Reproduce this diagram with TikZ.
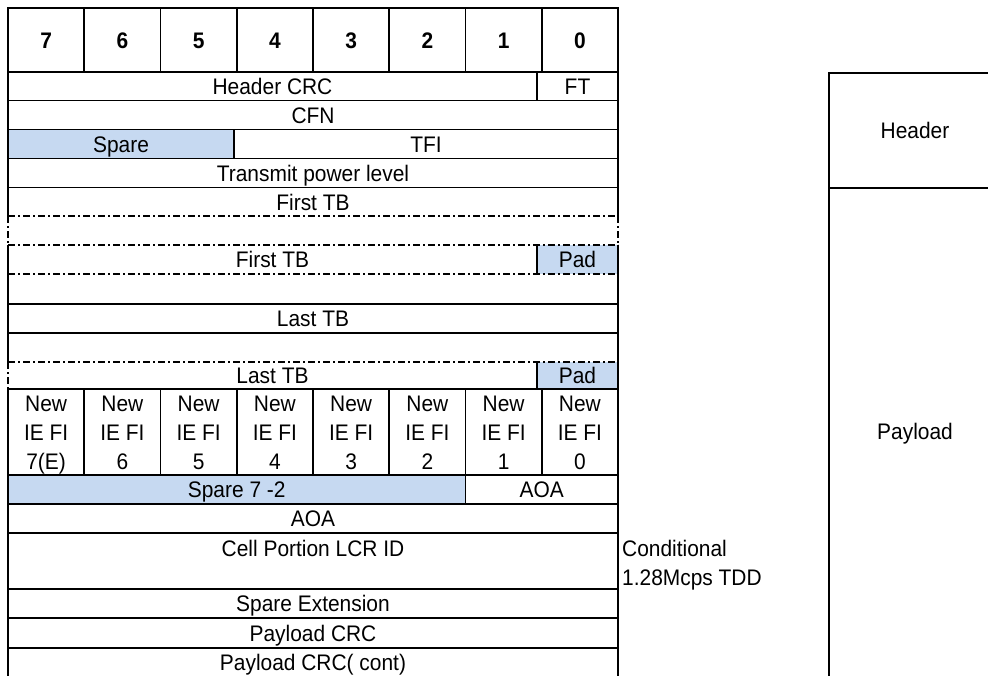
\documentclass[tikz,border=0pt]{standalone}
\usepackage{fontspec}
\setmainfont{Liberation Sans}[FakeStretch=0.93]
\definecolor{lblue}{RGB}{198,217,241}
\begin{document}
\begin{tikzpicture}[x=1pt,y=-1pt,
  solidln/.style={line width=1.7pt},
  dashln/.style={line width=1.2pt, dash pattern=on 7pt off 3pt on 2pt off 3pt},
  txt/.style={inner sep=0pt, font=\fontsize{22.5}{29}\selectfont, anchor=base},
  mtxt/.style={inner sep=0pt, font=\fontsize{22.5}{29}\selectfont, align=center, anchor=north},
  num/.style={inner sep=0pt, font=\fontsize{22.5}{29}\selectfont\bfseries, anchor=base}]
\useasboundingbox (0,0) rectangle (988,675);
\clip (0,0) rectangle (988,675);
% fills
\fill[lblue] (8,129.5) rectangle (234,158.5);
\fill[lblue] (537,245) rectangle (618,274);
\fill[lblue] (537,362) rectangle (618,389);
\fill[lblue] (8,475) rectangle (465.5,504);
% horizontal solid lines
\foreach \y in {8,72,100.5,129.5,158.5,187.5,304,333,389,475,504,533,589,618,648}
  \draw[solidln] (8,\y) -- (618,\y);
% horizontal dashed lines
\foreach \y in {216,245,274,362}
  \draw[dashln] (8,\y) -- (618,\y);
% outer verticals
\draw[solidln] (8,7.15) -- (8,216);
\draw[dashln] (8,216) -- (8,245);
\draw[solidln] (8,245) -- (8,362);
\draw[dashln] (8,362) -- (8,389);
\draw[solidln] (8,389) -- (8,680);
\draw[solidln] (618,7.15) -- (618,216);
\draw[dashln] (618,216) -- (618,245);
\draw[solidln] (618,245) -- (618,680);
% inner verticals
\foreach \x in {84.25,160.5,236.75,313,389.25,465.5,541.75}{
  \draw[solidln] (\x,8) -- (\x,72);
  \draw[solidln] (\x,389) -- (\x,475);
}
\draw[solidln] (537,72) -- (537,100.5);
\draw[solidln] (234,129.5) -- (234,158.5);
\draw[solidln] (537,245) -- (537,274);
\draw[solidln] (537,362) -- (537,389);
\draw[solidln] (465.5,475) -- (465.5,504);
% right box
\draw[solidln] (829,680) -- (829,73) -- (1000,73);
\draw[solidln] (829,188) -- (1000,188);
% numbers
\node[num] (n7) at (46.1,48) {7};
\node[num] (n6) at (122.4,48) {6};
\node[num] (n5) at (198.6,48) {5};
\node[num] (n4) at (274.9,48) {4};
\node[num] (n3) at (351.1,48) {3};
\node[num] (n2) at (427.4,48) {2};
\node[num] (n1) at (503.6,48) {1};
\node[num] (n0) at (579.9,48) {0};
% rows
\node[txt] (hcrc) at (272.5,94.5) {Header CRC};
\node[txt] (ft) at (577.5,94.5) {FT};
\node[txt] (cfn) at (313,123) {CFN};
\node[txt] (spare) at (121,152) {Spare};
\node[txt] (tfi) at (426,152) {TFI};
\node[txt] (tpl) at (313,181) {Transmit power level};
\node[txt] (ftb1) at (313,210) {First TB};
\node[txt] (ftb2) at (272.5,267.5) {First TB};
\node[txt] (pad1) at (577.5,267.5) {Pad};
\node[txt] (ltb1) at (313,326.5) {Last TB};
\node[txt] (ltb2) at (272.5,383.5) {Last TB};
\node[txt] (pad2) at (577.5,383.5) {Pad};
\node[mtxt] (ie7) at (46.1,396) {New\\IE FI\\7(E)};
\node[mtxt] (ie6) at (122.4,396) {New\\IE FI\\6};
\node[mtxt] (ie5) at (198.6,396) {New\\IE FI\\5};
\node[mtxt] (ie4) at (274.9,396) {New\\IE FI\\4};
\node[mtxt] (ie3) at (351.1,396) {New\\IE FI\\3};
\node[mtxt] (ie2) at (427.4,396) {New\\IE FI\\2};
\node[mtxt] (ie1) at (503.6,396) {New\\IE FI\\1};
\node[mtxt] (ie0) at (579.9,396) {New\\IE FI\\0};
\node[txt] (spare72) at (236.75,497.5) {Spare 7 -2};
\node[txt] (aoa1) at (541.75,497.5) {AOA};
\node[txt] (aoa2) at (313,526.5) {AOA};
\node[txt] (cellid) at (313,556) {Cell Portion LCR ID};
\node[txt] (spext) at (313,611.5) {Spare Extension};
\node[txt] (pcrc) at (313,641) {Payload CRC};
\node[txt] (pcrc2) at (313,670.5) {Payload CRC( cont)};
\node[mtxt, align=left, anchor=north west] (cond) at (622,540) {Conditional\\1.28Mcps TDD};
\node[txt] (hdr) at (915,138.5) {Header};
\node[txt] (pay) at (915,439) {Payload};
\end{tikzpicture}
\end{document}
